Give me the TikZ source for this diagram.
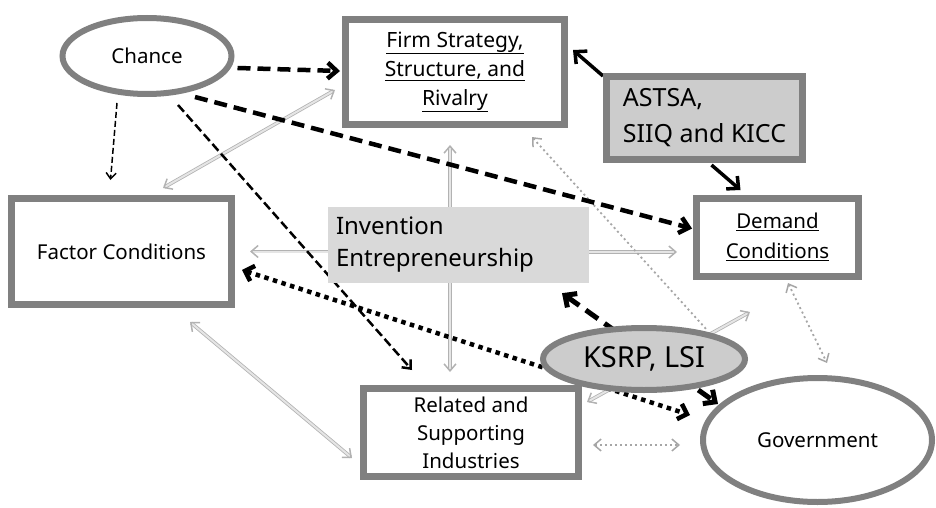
\documentclass[tikz,border=0pt]{standalone}
\usepackage{fontspec}
\setmainfont{Noto Sans}
\usetikzlibrary{arrows.meta,shapes.geometric}
\pgfdeclarelayer{bg}
\pgfsetlayers{bg,main}
\tikzset{
  graytip/.tip={Straight Barb[length=7pt,width=12pt,line width=1.5pt]},
  bigbarb/.tip={Straight Barb[length=9pt,width=17pt]},
  boxw/.style={draw=black!50, line width=7pt, fill=white, rectangle, inner sep=0pt, align=center, font=\fontsize{20.5}{29}\selectfont},
  ellw/.style={draw=black!50, line width=6pt, ellipse, inner sep=0pt, font=\fontsize{20.5}{29}\selectfont},
  bigtip/.style={-{Straight Barb[length=9pt,width=16pt]}},
  blkdash/.style={draw=black, line width=4.5pt, dash pattern=on 13pt off 7pt},
  thindash/.style={draw=black, line width=1.5pt, dash pattern=on 6pt off 3pt, -{Straight Barb[length=6pt,width=10pt]}},
  meddash/.style={draw=black, line width=2.5pt, dash pattern=on 9pt off 4pt, -{Straight Barb[length=7pt,width=12pt]}},
  blkdot/.style={draw=black, line width=4.5pt, dash pattern=on 4.5pt off 4.5pt, {Straight Barb[length=8pt,width=16pt]}-{Straight Barb[length=8pt,width=16pt]}},
  solidarr/.style={draw=black, line width=3.5pt, -{Straight Barb[length=9pt,width=17pt]}},
  grayarr/.style={draw=black!30, line width=0.8pt, double=black!10, double distance=2pt},
  graydot/.style={draw=black!35, line width=1.8pt, dash pattern=on 2pt off 3pt},
}
\begin{document}
\begin{tikzpicture}[x=1pt,y=-1pt]
\useasboundingbox (0,0) rectangle (936,508);
% nodes
\node[ellw, fill=white, minimum width=169pt, minimum height=76pt] (chance) at (147,56) {Chance};
\node[boxw, minimum width=219pt, minimum height=105pt, font=\fontsize{21}{29}\selectfont] (firm) at (455,72) {\underline{Firm Strategy,}\\\underline{Structure, and}\\\underline{Rivalry}};
\node[boxw, fill=black!20, minimum width=196pt, minimum height=83pt, align=left, font=\fontsize{25}{36}\selectfont] (astsa) at (704.5,118) {ASTSA,\\SIIQ and KICC};
\node[boxw, minimum width=162pt, minimum height=78pt] (demand) at (777.5,237.5) {\raisebox{3pt}{\begin{tabular}{@{}c@{}}\underline{Demand}\\[1pt]\underline{Conditions}\end{tabular}}};
\node[boxw, minimum width=220pt, minimum height=106pt] (factor) at (121.5,251.5) {Factor Conditions};
\node[rectangle, fill=black!15, minimum width=261pt, minimum height=76pt, inner sep=0pt, text width=245pt, align=left, font=\fontsize{24}{32}\selectfont] (invention) at (458.5,245) {Invention\\Entrepreneurship};
\node[boxw, minimum width=215pt, minimum height=88pt, font=\fontsize{20.5}{28}\selectfont] (related) at (471,432.5) {Related and\\Supporting\\Industries};
\node[ellw, fill=white, minimum width=229pt, minimum height=124pt] (gov) at (817.5,440) {Government};
\node[ellw, fill=black!20, minimum width=202pt, minimum height=62pt, font=\fontsize{29}{32}\selectfont] (ksrp) at (644,359) {KSRP, LSI};
\begin{pgfonlayer}{bg}
% gray arrows
\draw[grayarr, graytip-graytip] ([shift={(41.5,-7)}]factor.north) -- ([shift={(-7,18)}]firm.west);
\draw[grayarr, -graytip] ([shift={(0,6.5)}]invention.west) -- ([shift={(15,0)}]factor.east);
\draw[grayarr, -graytip] ([shift={(-8.5,0)}]invention.north) -- ([shift={(-5,17)}]firm.south);
\draw[grayarr, -graytip] ([shift={(-8.5,0)}]invention.south) -- ([shift={(-21,-13)}]related.north);
\draw[grayarr, -graytip] ([shift={(0,7)}]invention.east) -- ([shift={(-16,14.5)}]demand.west);
\draw[grayarr, graytip-graytip] ([shift={(5,-30.5)}]related.east) -- ([shift={(-27.5,32)}]demand.south);
\draw[grayarr, graytip-graytip] ([shift={(68.5,14)}]factor.south) -- ([shift={(-8,25.5)}]related.west);
\draw[graydot, graytip-] ([shift={(77,9)}]firm.south) -- ([shift={(63,5)}]ksrp.north);
\draw[graydot, graytip-graytip] ([shift={(10.5,3)}]demand.south) -- ([shift={(9.5,-12)}]gov.north);
\draw[graydot, graytip-graytip] ([shift={(11,12.5)}]related.east) -- ([shift={(-20,5)}]gov.west);
% black arrows
\draw[blkdash, bigtip] ([shift={(3,12)}]chance.east) -- ([shift={(-2,-1)}]firm.west);
\draw[blkdash, bigtip] ([shift={(48,0)}]chance.south) -- ([shift={(-1,-9)}]demand.west);
\draw[thindash] ([shift={(-30,6)}]chance.south) -- ([shift={(-11,-15)}]factor.north);
\draw[meddash] ([shift={(31,8)}]chance.south) -- ([shift={(-59,-15)}]related.north);
\draw[solidarr] ([shift={(0,3)}]astsa.north west) -- ([shift={(5,-22)}]firm.east);
\draw[solidarr] ([shift={(7,2)}]astsa.south) -- ([shift={(-37,-5)}]demand.north);
\draw[blkdot] ([shift={(7,18.5)}]factor.east) -- ([shift={(-10,-25)}]gov.west);
\draw[blkdash, line width=5pt, dash pattern=on 15pt off 8pt, bigbarb-bigbarb] ([shift={(103.5,10)}]invention.south) -- ([shift={(18,-36)}]gov.west);
\end{pgfonlayer}
\end{tikzpicture}
\end{document}
